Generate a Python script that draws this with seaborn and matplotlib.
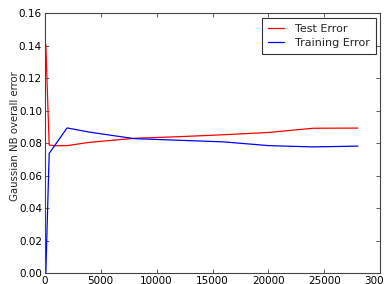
import numpy as np
import pandas as pd
import matplotlib
matplotlib.use('Agg')
import matplotlib.pyplot as plt
import seaborn as sns

# training set sizes and errors
test_sizes = [100, 400, 1000, 2000, 4000, 8000, 12000, 16000, 20000, 24000, 28000]
test_error = [0.141, 0.0788, 0.0784, 0.0785, 0.0805, 0.0830, 0.0840, 0.0852, 0.0866, 0.0892, 0.0893]

train_sizes = [100, 400, 2000, 4000, 8000, 12000, 16000, 20000, 24000, 28000]
train_error = [0.0, 0.0737, 0.0894, 0.0868, 0.0828, 0.0818, 0.0808, 0.0785, 0.0777, 0.0782]

df = pd.concat([
    pd.DataFrame({'size': test_sizes, 'error': test_error, 'kind': 'Test Error'}),
    pd.DataFrame({'size': train_sizes, 'error': train_error, 'kind': 'Training Error'}),
])

sns.set_style('ticks')
plt.rcParams['font.family'] = ['DejaVu Sans']
plt.rcParams['xtick.direction'] = 'in'
plt.rcParams['ytick.direction'] = 'in'
plt.rcParams['xtick.top'] = True
plt.rcParams['ytick.right'] = True

fig = plt.figure(figsize=(3.84, 2.84), dpi=100)
ax = fig.add_axes([0.1164, 0.0387, 0.8740, 0.9143])
sns.lineplot(data=df, x='size', y='error', hue='kind', palette={'Test Error': 'red', 'Training Error': 'blue'},
             linewidth=0.9, ax=ax, estimator=None, sort=False)

ax.set_xlim(0, 30000)
ax.set_ylim(0, 0.16)
ax.set_xticks(range(0, 30001, 5000))
ax.set_yticks(np.arange(0, 0.161, 0.02))
ax.set_yticklabels(['%.2f' % v for v in np.arange(0, 0.161, 0.02)])
ax.set_xlabel('')
ax.set_ylabel('Gaussian NB overall error', fontsize=7.3)
ax.yaxis.set_label_coords(-0.075, 0.527)
ax.tick_params(labelsize=7.5, length=3, width=0.6, colors='#444444', labelcolor='black', pad=2)
for s in ax.spines.values():
    s.set_linewidth(0.8)
    s.set_color('#444444')

leg = ax.legend(loc='upper right', fontsize=8, frameon=True, fancybox=False, handlelength=1.45,
                handletextpad=1.0, borderpad=0.55, borderaxespad=0.4, labelspacing=0.35)
leg.get_frame().set_edgecolor('black')
leg.get_frame().set_linewidth(0.8)
leg.set_title(None)

fig.savefig('out.png', dpi=100)
